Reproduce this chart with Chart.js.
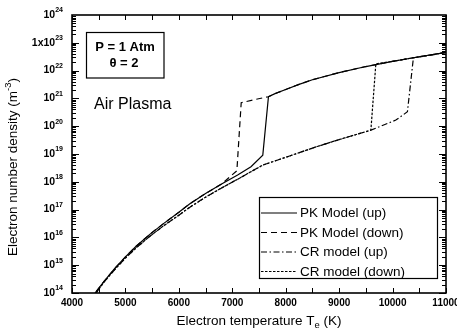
<!DOCTYPE html>
<html>
<head>
<meta charset="utf-8">
<script src="https://cdn.jsdelivr.net/npm/chart.js@4.4.1/dist/chart.umd.min.js"></script>
<style>
  html, body { margin: 0; padding: 0; background: #fff; }
  #wrap { width: 457px; height: 335px; }
</style>
</head>
<body>
<div id="wrap"><canvas id="densityChart" width="457" height="335"></canvas></div>
<script>
// Values: electron temperature (K) vs density (m^-3)
const pkUpTemp = [4430, 4600, 4800, 5000, 5200, 5450, 5700, 6000, 6200, 6500, 6800, 7100, 7350, 7571, 7677, 7800, 8000, 8250, 8500, 9000, 9500, 10000, 10500, 11000];
const pkUpDensity = [1.0e14, 2.6e14, 7.6e14, 2.0e15, 4.8e15, 1.26e16, 3.0e16, 8.0e16, 1.6e17, 3.8e17, 8.3e17, 1.75e18, 3.5e18, 9.1e18, 1.15e21, 1.48e21, 2.1e21, 3.2e21, 4.7e21, 8.5e21, 1.4e22, 2.15e22, 3.15e22, 4.5e22];

const pkDownTemp = [11000, 10500, 10000, 9500, 9000, 8500, 8250, 8000, 7800, 7677, 7400, 7167, 7086, 6800, 6500, 6200, 6000, 5700, 5450, 5200, 5000, 4800, 4600, 4430];
const pkDownDensity = [4.5e22, 3.15e22, 2.15e22, 1.4e22, 8.5e21, 4.7e21, 3.2e21, 2.1e21, 1.48e21, 1.15e21, 8.9e20, 7.0e20, 2.5e18, 8.3e17, 3.8e17, 1.6e17, 8.0e16, 3.0e16, 1.26e16, 4.8e15, 2.0e15, 7.6e14, 2.6e14, 1.0e14];

const crUpTemp = [4450, 4600, 4800, 5000, 5200, 5450, 5700, 6000, 6200, 6500, 6800, 7136, 7571, 8000, 8567, 9000, 9594, 10061, 10278, 10390, 10600, 11000];
const crUpDensity = [1.0e14, 2.5e14, 7.0e14, 1.8e15, 4.2e15, 1.07e16, 2.5e16, 6.3e16, 1.2e17, 2.8e17, 6.0e17, 1.35e18, 4.0e18, 7.6e18, 1.8e19, 3.3e19, 7.2e19, 1.66e20, 3.3e20, 2.9e22, 3.3e22, 4.5e22];

const crDownTemp = [11000, 10500, 10000, 9687, 9594, 9000, 8567, 8000, 7571, 7136, 6800, 6500, 6200, 6000, 5700, 5450, 5200, 5000, 4800, 4600, 4450];
const crDownDensity = [4.5e22, 3.15e22, 2.15e22, 1.75e22, 7.2e19, 3.3e19, 1.8e19, 7.6e18, 4.0e18, 1.35e18, 6.0e17, 2.8e17, 1.2e17, 6.3e16, 2.5e16, 1.07e16, 4.2e15, 1.8e15, 7.0e14, 2.5e14, 1.0e14];

const seriesNames = ['PK Model (up)', 'PK Model (down)', 'CR model (up)', 'CR model (down)'];
const xTicks = [4000, 5000, 6000, 7000, 8000, 9000, 10000, 11000];
const yTickValues = [1e14, 1e15, 1e16, 1e17, 1e18, 1e19, 1e20, 1e21, 1e22, 1e23, 1e24];
const yTickLabels = ['10^14', '10^15', '10^16', '10^17', '10^18', '10^19', '10^20', '10^21', '10^22', '1x10^23', '10^24'];

const FONT = "'Liberation Sans', Arial, sans-serif";

function toPoints(temps, dens) {
    return temps.map((t, i) => ({ x: t, y: dens[i] }));
}

// draws a string with a raised/lowered small part, e.g. "(m" "-3" ")"
function drawParts(ctx, parts, cx, cy, size) {
    let total = 0;
    parts.forEach(p => {
        ctx.font = (p.small ? size * 0.7 : size) + 'px ' + FONT;
        p.w = ctx.measureText(p.t).width;
        total += p.w;
    });
    let x = cx - total / 2;
    parts.forEach(p => {
        ctx.font = (p.small ? size * 0.7 : size) + 'px ' + FONT;
        ctx.fillText(p.t, x, cy + (p.shift || 0));
        x += p.w;
    });
}

const decorations = {
    id: 'decorations',
    afterDraw(chart) {
        const ctx = chart.ctx;
        const a = chart.chartArea;
        const xs = chart.scales.x;
        const ys = chart.scales.y;
        ctx.save();
        ctx.strokeStyle = '#000';
        ctx.fillStyle = '#000';

        // inward tick marks on all four sides
        ctx.lineWidth = 1;
        ctx.beginPath();
        for (let t = xTicks[0]; t <= xTicks[xTicks.length - 1]; t += 500) {
            const px = Math.round(xs.getPixelForValue(t)) + 0.5;
            ctx.moveTo(px, a.bottom); ctx.lineTo(px, a.bottom - 5);
            ctx.moveTo(px, a.top); ctx.lineTo(px, a.top + 5);
        }
        for (let d = 14; d < 24; d++) {
            for (let m = 1; m < 10; m++) {
                const py = Math.round(ys.getPixelForValue(m * Math.pow(10, d))) + 0.5;
                const len = m === 1 ? 7 : 4;
                ctx.moveTo(a.left, py); ctx.lineTo(a.left + len, py);
                ctx.moveTo(a.right, py); ctx.lineTo(a.right - len, py);
            }
        }
        ctx.stroke();

        ctx.lineWidth = 1.6;
        ctx.strokeRect(a.left, a.top, a.right - a.left, a.bottom - a.top);

        // y tick labels with superscript exponents
        ctx.textBaseline = 'middle';
        ctx.textAlign = 'left';
        yTickLabels.forEach((lab, i) => {
            const parts = lab.split('^');
            const py = ys.getPixelForValue(yTickValues[i]);
            ctx.font = 'bold 7px ' + FONT;
            const ew = ctx.measureText(parts[1]).width;
            ctx.font = 'bold 10.5px ' + FONT;
            const bw = ctx.measureText(parts[0]).width;
            const right = a.left - 9;
            ctx.fillText(parts[0], right - ew - bw, py);
            ctx.font = 'bold 7px ' + FONT;
            ctx.fillText(parts[1], right - ew, py - 4.5);
        });

        // axis titles
        drawParts(ctx, [
            { t: 'Electron temperature T' },
            { t: 'e', small: true, shift: 4 },
            { t: ' (K)' }
        ], (a.left + a.right) / 2, 321.5, 13.5);

        ctx.save();
        ctx.translate(13, 167);
        ctx.rotate(-Math.PI / 2);
        drawParts(ctx, [
            { t: 'Electron number density (m' },
            { t: '-3', small: true, shift: -5 },
            { t: ')' }
        ], 0, 0, 13.5);
        ctx.restore();

        // condition box
        ctx.lineWidth = 1.2;
        ctx.strokeRect(86.5, 32.5, 77.5, 45.5);
        ctx.textAlign = 'center';
        ctx.font = 'bold 13px ' + FONT;
        ctx.fillText('P = 1 Atm', 125, 47);
        ctx.fillText('\u03B8 = 2', 124, 63.5);

        ctx.textAlign = 'left';
        ctx.font = '16px ' + FONT;
        ctx.fillText('Air Plasma', 94, 104.5);

        // legend
        ctx.lineWidth = 1.2;
        ctx.strokeRect(259.5, 197.5, 178, 81);
        const rows = [213, 232.5, 252, 271.5];
        chart.data.datasets.forEach((ds, i) => {
            ctx.lineWidth = ds.borderWidth;
            ctx.setLineDash(ds.borderDash || []);
            ctx.beginPath();
            ctx.moveTo(261, rows[i]);
            ctx.lineTo(297, rows[i]);
            ctx.stroke();
            ctx.setLineDash([]);
            ctx.font = '13.5px ' + FONT;
            ctx.fillText(ds.label, 300, rows[i] + 0.5);
        });
        ctx.restore();
    }
};

const lineStyles = [[], [6, 4], [6, 2.5, 1.5, 2.5], [2.5, 1.5]];
const seriesData = [
    toPoints(pkUpTemp, pkUpDensity),
    toPoints(pkDownTemp, pkDownDensity),
    toPoints(crUpTemp, crUpDensity),
    toPoints(crDownTemp, crDownDensity)
];

const ctx = document.getElementById('densityChart').getContext('2d');
new Chart(ctx, {
    type: 'line',
    data: {
        datasets: seriesData.map((pts, i) => ({
            label: seriesNames[i],
            data: pts,
            borderColor: '#000',
            borderWidth: 1.2,
            borderDash: lineStyles[i],
            pointRadius: 0,
            fill: false,
            tension: 0
        }))
    },
    options: {
        responsive: false,
        animation: false,
        devicePixelRatio: 1,
        layout: { padding: { top: 15, right: 11, left: 0, bottom: 0 } },
        plugins: { legend: { display: false }, tooltip: { enabled: false } },
        scales: {
            x: {
                type: 'linear',
                min: 4000,
                max: 11000,
                grid: { display: false, drawTicks: false },
                border: { display: false },
                afterBuildTicks: s => { s.ticks = xTicks.map(v => ({ value: v })); },
                ticks: {
                    color: '#000',
                    font: { family: FONT, size: 10, weight: 'bold' },
                    padding: 4,
                    maxRotation: 0,
                    autoSkip: false,
                    callback: v => String(v)
                },
                afterFit: s => { s.height = 42; s.paddingLeft = 0; s.paddingRight = 0; }
            },
            y: {
                type: 'logarithmic',
                min: 1e14,
                max: 1e24,
                grid: { display: false },
                border: { display: false },
                ticks: { display: false },
                afterFit: s => { s.width = 72; s.paddingTop = 0; s.paddingBottom = 0; }
            }
        }
    },
    plugins: [decorations]
});
</script>
</body>
</html>
